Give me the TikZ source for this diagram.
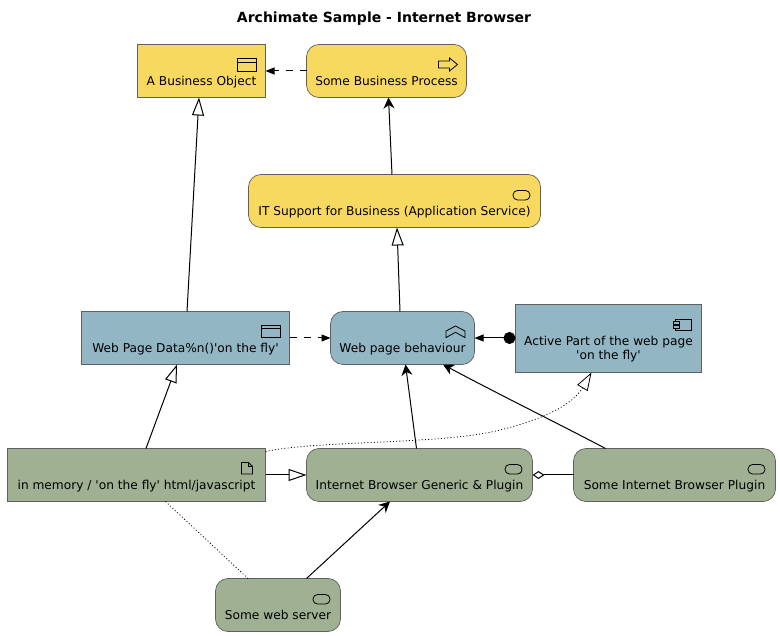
\documentclass[tikz,border=0pt]{standalone}
\usepackage{fontspec}
\newfontfamily\diagfont{DejaVu Sans}
\usetikzlibrary{arrows.meta}
\definecolor{bizcol}{HTML}{F8D95F}
\definecolor{appcol}{HTML}{92B6C3}
\definecolor{techcol}{HTML}{9FB093}
\definecolor{edgecol}{HTML}{606060}
\tikzset{
    box/.style={draw=edgecol,line width=0.7pt,outer sep=0pt,inner sep=0pt,minimum height=53pt,
        font=\diagfont\fontsize{12.2}{14.3}\selectfont,text=black,text height=29.4pt,text depth=0pt},
    roundbox/.style={box,rounded corners=12.5pt},
    flow/.style={line width=1pt,-{Stealth[length=11pt,width=11pt,inset=3.5pt]}},
    spec/.style={line width=1pt,-{Triangle[open,fill=white,length=18pt,width=12pt]}},
    trig/.style={line width=1pt,dash pattern=on 7pt off 7pt,-{Triangle[length=9pt,width=7pt]}},
    assoc/.style={line width=0.8pt,dash pattern=on 1pt off 2.2pt},
    icon/.style={line width=0.8pt,black},
    winicon/.pic={\draw[icon] (-19,0) rectangle (0,12.7) (-19,3.7)--(0,3.7);},
    procicon/.pic={\draw[icon] (-19,3)--(-8,3)--(-8,0)--(0,6.5)--(-8,13)--(-8,10)--(-19,10)--cycle;},
    svcicon/.pic={\draw[icon,rounded corners=4.5pt] (-17,0) rectangle (0,9.5);},
    fnicon/.pic={\draw[icon] (-19,5)--(-9.5,0)--(0,5)--(0,11.6)--(-9.5,6.3)--(-19,11.6)--cycle;},
    compicon/.pic={\draw[icon] (-15.7,0) rectangle (0,11.4);
        \draw[icon,fill=appcol] (-18.4,2.4) rectangle (-12.4,5) (-18.4,6.4) rectangle (-12.4,9);},
    docicon/.pic={\draw[icon] (-11,0)--(-4,0)--(0,4)--(0,11.6)--(-11,11.6)--cycle (-4,0)--(-4,4)--(0,4);}
}
\begin{document}
\begin{tikzpicture}[x=1pt,y=-1pt]
    \useasboundingbox (0,0) rectangle (780,636);
    \node (title) at (384,19) {\diagfont\bfseries\fontsize{14}{16}\selectfont Archimate Sample - Internet Browser};
    % top row
    \node [box,fill=bizcol,minimum width=128pt] (bobj) at (201.5,71) {A Business Object};
    \node [roundbox,fill=bizcol,minimum width=160pt] (proc) at (386.5,71) {Some Business Process};
    \node [roundbox,fill=bizcol,minimum width=292pt] (itsvc) at (394.5,201) {IT Support for Business (Application Service)};
    % middle row
    \node [box,fill=appcol,minimum width=208pt] (data) at (185.5,338) {Web Page Data\%n()'on the fly'};
    \node [roundbox,fill=appcol,minimum width=144pt] (behav) at (402.5,338) {Web page behaviour};
    \node [box,fill=appcol,minimum width=186pt,minimum height=68pt,align=center,text height=,text depth=] (active) at (608.5,338.5)
        {\rule{0pt}{30pt}Active Part of the web page\\'on the fly'};
    % bottom rows
    \node [box,fill=techcol,minimum width=258pt] (memdoc) at (136.5,475) {in memory / 'on the fly' html/javascript};
    \node [roundbox,fill=techcol,minimum width=226pt] (browser) at (419.5,475) {Internet Browser Generic \& Plugin};
    \node [roundbox,fill=techcol,minimum width=202pt] (plugin) at (674.5,475) {Some Internet Browser Plugin};
    \node [roundbox,fill=techcol,minimum width=125pt] (server) at (278,605) {Some web server};
    % icons
    \pic at ([shift={(-9,14)}]bobj.north east) {winicon};
    \pic at ([shift={(-9,13.5)}]proc.north east) {procicon};
    \pic at ([shift={(-10.5,16)}]itsvc.north east) {svcicon};
    \pic at ([shift={(-9.5,13.5)}]data.north east) {winicon};
    \pic at ([shift={(-9.5,14.5)}]behav.north east) {fnicon};
    \pic at ([shift={(-10,14.8)}]active.north east) {compicon};
    \pic at ([shift={(-13,14)}]memdoc.north east) {docicon};
    \pic at ([shift={(-10.5,16)}]browser.north east) {svcicon};
    \pic at ([shift={(-10.5,16)}]plugin.north east) {svcicon};
    \pic at ([shift={(-10.5,16)}]server.north east) {svcicon};
    % connectors
    \draw [trig] (proc.west) -- (bobj.east);
    \draw [flow] ([shift={(-2.5,0)}]itsvc.north) -- ([shift={(2,0)}]proc.south);
    \draw [spec] ([shift={(1.5,0)}]data.north) -- ([shift={(-2.5,0)}]bobj.south);
    \draw [spec] ([shift={(-2.5,0)}]behav.north) -- ([shift={(2.5,0)}]itsvc.south);
    \draw [trig] (data.east) -- (behav.west);
    \draw [line width=1pt,{Circle[length=12pt]}-{Triangle[length=9pt,width=7pt]}] (active.west |- behav.east) -- (behav.east);
    \draw [spec] ([shift={(9.5,0)}]memdoc.north) -- ([shift={(-8.5,0)}]data.south);
    \draw [flow] ([shift={(-3,0)}]browser.north) -- ([shift={(3,0)}]behav.south);
    \draw [flow] ([shift={(-69,0)}]plugin.north) .. controls (565,427) and (500,395) .. ([shift={(40.5,0)}]behav.south);
    \draw [assoc,-{Triangle[open,fill=white,length=18pt,width=12pt]}] ([shift={(0,-23.5)}]memdoc.east)
        .. controls (320,440) and (440,445) .. (500,430)
        .. controls (545,419) and (573,404) .. ([shift={(-17,0)}]active.south);
    \draw [spec] (memdoc.east) -- (browser.west);
    \draw [line width=1pt,-{Diamond[open,fill=white,length=12pt,width=8pt]}] (plugin.west) -- (browser.east);
    \draw [flow] ([shift={(28.5,0)}]server.north) -- ([shift={(-29.5,0)}]browser.south);
    \draw [assoc] ([shift={(29,0)}]memdoc.south) -- ([shift={(-30,0)}]server.north);
\end{tikzpicture}
\end{document}
